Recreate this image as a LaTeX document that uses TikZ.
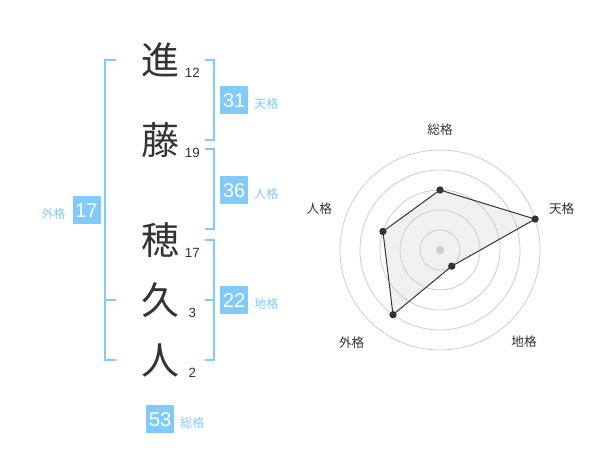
\documentclass[tikz,border=0pt]{standalone}
\usepackage{fontspec}
\setmainfont{Liberation Sans}
\newfontfamily\jp{Noto Sans CJK JP}
\definecolor{kblue}{HTML}{80CBFA}
\definecolor{kdark}{HTML}{333333}
\definecolor{kgrid}{HTML}{CCCCCC}
\definecolor{kfill}{HTML}{F0F0F0}
\begin{document}
\begin{tikzpicture}[x=0.75pt,y=-0.75pt,
  kanji/.style={font=\jp\fontsize{28.5pt}{28.5pt}\selectfont, text=kdark, inner sep=0pt},
  stroke/.style={font=\fontsize{10pt}{10pt}\selectfont, text=kdark, inner sep=0pt},
  valbox/.style={fill=kblue, text=white, minimum width=21pt, minimum height=21pt, inner sep=0pt, font=\fontsize{15pt}{15pt}\selectfont},
  kaku/.style={font=\jp\fontsize{9pt}{9pt}\selectfont, text=kblue, inner sep=0pt},
  brk/.style={draw=kblue, line width=1.5pt},
  rlabel/.style={font=\jp\fontsize{9.5pt}{9.5pt}\selectfont, text=kdark, inner sep=0pt},
  ring/.style={draw=kgrid, line width=0.6pt},
  dot/.style={circle, fill=kdark, minimum size=5.5pt, inner sep=0pt}
]
\useasboundingbox (0,0) rectangle (600,470);
% name characters
\node[kanji] (c1) at (160,60) {進};
\node[kanji] (c2) at (160,140) {藤};
\node[kanji] (c3) at (160,240) {穂};
\node[kanji] (c4) at (160,300) {久};
\node[kanji] (c5) at (160,360) {人};
\node[stroke] (s1) at (192.3,72.7) {12};
\node[stroke] (s2) at (192.3,152.7) {19};
\node[stroke] (s3) at (192.3,252.7) {17};
\node[stroke] (s4) at (192.3,313.3) {3};
\node[stroke] (s5) at (192.3,373.3) {2};
% brackets
\coordinate (la) at (116,60);
\coordinate (lb) at (105,60);
\coordinate (lc) at (105,360);
\coordinate (ld) at (116,360);
\coordinate (lm) at (116,300);
\coordinate (lmv) at (105,300);
\draw[brk] (la) -- (lb) -- (lc) -- (ld);
\draw[brk] (lmv) -- (lm);
\coordinate (t1) at (205,60);
\coordinate (t2) at (214.3,60);
\coordinate (t3) at (214.3,140);
\coordinate (t4) at (205,140);
\draw[brk] (t1) -- (t2) -- (t3) -- (t4);
\coordinate (h1) at (205,149.3);
\coordinate (h2) at (214.3,149.3);
\coordinate (h3) at (214.3,229.3);
\coordinate (h4) at (205,229.3);
\draw[brk] (h1) -- (h2) -- (h3) -- (h4);
\coordinate (g1) at (205,240);
\coordinate (g2) at (214.3,240);
\coordinate (g3) at (214.3,360);
\coordinate (g4) at (205,360);
\coordinate (gm1) at (205,300);
\coordinate (gm2) at (214.3,300);
\draw[brk] (g1) -- (g2) -- (g3) -- (g4);
\draw[brk] (gm1) -- (gm2);
% values
\node[valbox] (v1) at (234.2,100.2) {31};
\node[kaku, anchor=west] (k1) at (254,104) {天格};
\node[valbox] (v2) at (234.2,190.2) {36};
\node[kaku, anchor=west] (k2) at (254,194) {人格};
\node[valbox] (v3) at (234.2,300.2) {22};
\node[kaku, anchor=west] (k3) at (254,304) {地格};
\node[valbox] (v4) at (86.5,210.2) {17};
\node[kaku, anchor=east] (k4) at (66,213.5) {外格};
\node[valbox] (v5) at (160.2,419.2) {53};
\node[kaku, anchor=west] (k5) at (180,422.5) {総格};
% radar
\begin{scope}[shift={(440,250)}, y=0.75pt]
  \coordinate (rc) at (0,0);
  \coordinate (p1) at (90:60);
  \coordinate (p2) at (18:100);
  \coordinate (p3) at (-54:20);
  \coordinate (p4) at (-126:80);
  \coordinate (p5) at (162:60);
  \fill[kfill] (p1) -- (p2) -- (p3) -- (p4) -- (p5) -- cycle;
  \foreach \r in {20,40,60,80,100} \draw[ring] (rc) circle[radius=\r];
  \node[circle, fill=kgrid, minimum size=6pt, inner sep=0pt] (rcd) at (rc) {};
  \draw[draw=kdark, line width=0.75pt] (p1) -- (p2) -- (p3) -- (p4) -- (p5) -- cycle;
  \foreach \p in {p1,p2,p3,p4,p5} \node[dot] at (\p) {};
\end{scope}
\node[rlabel] (r1) at (440,130) {総格};
\node[rlabel] (r2) at (561.7,209) {天格};
\node[rlabel] (r3) at (524,341.7) {地格};
\node[rlabel] (r4) at (351.7,342.3) {外格};
\node[rlabel] (r5) at (319.3,209) {人格};
\end{tikzpicture}
\end{document}
